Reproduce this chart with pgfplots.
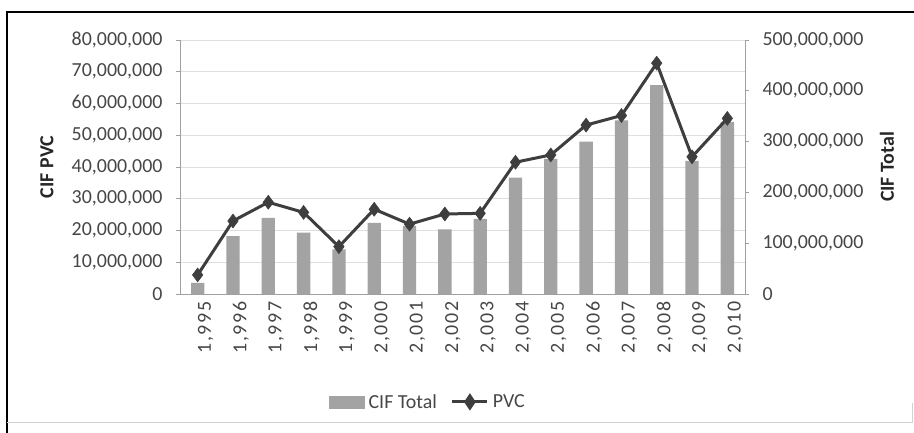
\documentclass[border=0pt]{standalone}
\usepackage{pgfplots}
\pgfplotsset{compat=1.18}
\usepackage{pgfplotstable}
\usepackage{fontspec}
\setmainfont{Carlito}
\newfontfamily\spaced[LetterSpace=8]{Carlito}
\definecolor{barg}{RGB}{163,163,163}
\definecolor{lineg}{RGB}{62,62,62}
\definecolor{gridg}{RGB}{222,222,222}
\definecolor{axisg}{RGB}{160,160,160}
\definecolor{txtg}{RGB}{70,70,70}

% year index, CIF PVC (left axis), CIF Total (right axis)
\pgfplotstableread{
i  pvc       cif
0  6000000   22000000
1  23000000  114000000
2  28900000  150000000
3  25700000  121000000
4  14900000  88000000
5  26700000  140000000
6  22000000  134000000
7  25200000  127000000
8  25400000  148000000
9  41500000  229000000
10 43800000  266000000
11 53200000  300000000
12 56200000  342000000
13 72700000  411000000
14 43200000  262000000
15 55300000  339000000
}\datatable

\pgfplotsset{
  base/.style={
    at={(180bp,139bp)}, anchor=south west,
    scale only axis, width=565bp, height=254bp,
    xmin=-0.5, xmax=15.5,
    scaled y ticks=false,
    /pgf/number format/.cd, fixed, precision=0, 1000 sep={,}, assume math mode=true,
    /pgfplots/.cd,
    tick label style={font=\fontsize{20}{22}\selectfont, text=txtg},
    axis line style={axisg, line width=0.8bp},
    tick style={axisg, line width=0.8bp},
    tick align=outside, major tick length=4bp,
  },
}

\begin{document}
\begin{tikzpicture}[x=1bp,y=1bp]
\useasboundingbox (0,0) rectangle (914,433);
\draw[line width=2.6bp] (7,-5) -- (7,421) -- (920,421);
\draw[gray!35, line width=0.6bp] (7,11) -- (912,11) -- (912,30);

% grid, left axis, categories
\begin{axis}[base,
  ymin=0, ymax=80000000,
  ytick={0,10000000,20000000,30000000,40000000,50000000,60000000,70000000,80000000},
  axis x line*=bottom, axis y line*=left,
  ymajorgrids, grid style={gridg, line width=0.8bp},
  yticklabel style={xshift=-10bp},
  xtick={0,...,15},
  xticklabels={{1,995},{1,996},{1,997},{1,998},{1,999},{2,000},{2,001},{2,002},{2,003},{2,004},{2,005},{2,006},{2,007},{2,008},{2,009},{2,010}},
  xticklabel style={rotate=90, anchor=east, yshift=-8bp, font=\spaced\fontsize{20}{22}\selectfont},
  xtick style={draw=none},
  extra x ticks={-0.5,0.5,1.5,2.5,3.5,4.5,5.5,6.5,7.5,8.5,9.5,10.5,11.5,12.5,13.5,14.5,15.5},
  extra x tick labels={},
  extra x tick style={tick style={axisg, line width=0.8bp}, major tick length=4bp, grid=none},
]
\addplot[draw=none] coordinates {(0,0)};
\end{axis}

% bars on the right axis
\begin{axis}[base,
  ymin=0, ymax=500000000,
  ytick={0,100000000,200000000,300000000,400000000,500000000},
  axis y line*=right, axis x line=none,
  yticklabel style={xshift=10bp},
]
\addplot[ybar, bar width=13.3bp, bar shift=0pt, fill=barg, draw=none]
  table[x=i, y=cif] {\datatable};
\end{axis}

% line on the left axis
\begin{axis}[base,
  ymin=0, ymax=80000000,
  hide axis,
  legend style={at={(0.439,-0.425)}, anchor=center, draw=none, fill=none,
    legend columns=2, font=\fontsize{20}{22}\selectfont, text=txtg,
    /tikz/every odd column/.append style={column sep=2bp},
    /tikz/every even column/.append style={column sep=12bp},
    inner sep=0pt},
]
\addlegendimage{legend image code/.code={\fill[barg] (0,-6bp) rectangle (35bp,6bp);}}
\addlegendentry{CIF Total}
\addplot[lineg, line width=3bp, mark=diamond*, mark size=7bp,
  mark options={fill=lineg, line width=0.5bp},
  legend image code/.code={\draw[lineg, line width=3bp] (0,0) -- (35bp,0);
    \fill[lineg] (17.5bp,-6bp) -- (21.5bp,0) -- (17.5bp,6bp) -- (13.5bp,0) -- cycle;}]
  table[x=i, y=pvc] {\datatable};
\addlegendentry{PVC}
\end{axis}

\node[rotate=90, font=\fontsize{20}{22}\selectfont\bfseries, text=black!85] at (47,266) {CIF PVC};
\node[rotate=90, font=\fontsize{20}{22}\selectfont\bfseries, text=black!85] at (887,266) {CIF Total};
\end{tikzpicture}
\end{document}
